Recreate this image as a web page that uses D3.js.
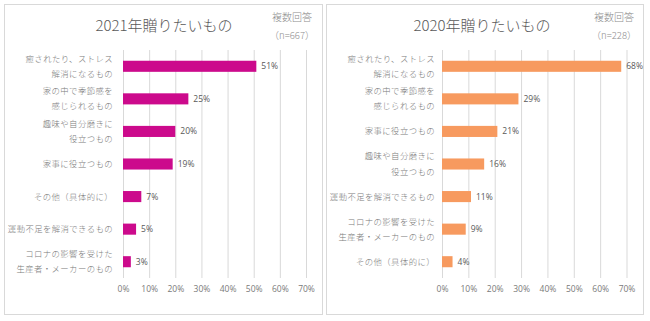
<!DOCTYPE html>
<html>
<head>
<meta charset="utf-8">
<script src="https://cdn.jsdelivr.net/npm/d3@7"></script>
<style>
  body { margin: 0; background: #fff; }
  svg { display: block; font-family: "Noto Sans CJK JP", "Noto Sans", sans-serif; }
</style>
</head>
<body>
<svg id="chart" width="650" height="321"></svg>
<script>
// 2021 survey (n=667)
const categories2021 = [
    '癒されたり、ストレス\n解消になるもの',
    '家の中で季節感を\n感じられるもの',
    '趣味や自分磨きに\n役立つもの',
    '家事に役立つもの',
    'その他（具体的に）',
    '運動不足を解消できるもの',
    'コロナの影響を受けた\n生産者・メーカーのもの',
];
const values2021 = [51, 25, 20, 19, 7, 5, 3];

// 2020 survey (n=228)
const categories2020 = [
    '癒されたり、ストレス\n解消になるもの',
    '家の中で季節感を\n感じられるもの',
    '家事に役立つもの',
    '趣味や自分磨きに\n役立つもの',
    '運動不足を解消できるもの',
    'コロナの影響を受けた\n生産者・メーカーのもの',
    'その他（具体的に）',
];
const values2020 = [68, 29, 21, 16, 11, 9, 4];

const xTicks = [0, 10, 20, 30, 40, 50, 60, 70];

const svg = d3.select('#chart');

const drawPanel = ({ box, plot, title, titleX, note, noteX, categories, values, color, labelGap }) => {
    const g = svg.append('g');

    // panel frame
    g.append('rect')
        .attr('x', box.x + 0.5)
        .attr('y', box.y + 0.5)
        .attr('width', box.w)
        .attr('height', box.h)
        .attr('fill', '#fff')
        .attr('stroke', '#d9d9d9')
        .attr('stroke-width', 1);

    const xScale = d3.scaleLinear()
        .domain([0, 70])
        .range([plot.left, plot.right]);

    const yScale = d3.scaleBand()
        .domain(categories)
        .range([plot.top, plot.bottom])
        .paddingInner(0.66)
        .paddingOuter(0.33);

    // vertical grid lines with percent labels below
    const xAxis = d3.axisBottom(xScale)
        .tickValues(xTicks)
        .tickSize(-(plot.bottom - plot.top))
        .tickPadding(8)
        .tickFormat((d) => `${d}%`);
    const xAxisGroup = g.append('g')
        .attr('transform', `translate(0,${plot.bottom})`)
        .call(xAxis);
    xAxisGroup.select('.domain').remove();
    xAxisGroup.selectAll('line').attr('stroke', '#d9d9d9');
    xAxisGroup.selectAll('text')
        .attr('fill', '#7a7a7a')
        .attr('font-size', '8.5px')
        .style('font-family', '"Open Sans", "Noto Sans", sans-serif');

    // bars
    g.append('g')
        .selectAll('rect')
        .data(categories)
        .join('rect')
        .attr('x', xScale(0))
        .attr('y', (d) => yScale(d))
        .attr('width', (d, i) => xScale(values[i]) - xScale(0))
        .attr('height', yScale.bandwidth())
        .attr('fill', color);

    // value labels
    g.append('g')
        .selectAll('text')
        .data(categories)
        .join('text')
        .attr('x', (d, i) => xScale(values[i]) + 5)
        .attr('y', (d) => yScale(d) + yScale.bandwidth() / 2)
        .attr('dy', '0.35em')
        .attr('fill', '#595959')
        .attr('font-size', '8.5px')
        .style('font-family', '"Open Sans", "Noto Sans", sans-serif')
        .text((d, i) => `${values[i]}%`);

    // category labels, split over two lines where needed
    const labels = g.append('g')
        .selectAll('text')
        .data(categories)
        .join('text')
        .attr('text-anchor', 'end')
        .attr('fill', '#7a7a7a')
        .attr('font-size', '8.4px')
        .attr('font-weight', 300)
        .attr('letter-spacing', '0.4px')
        .attr('y', (d) => yScale(d) + yScale.bandwidth() / 2);
    labels.each(function (d) {
        const lines = d.split('\n');
        const text = d3.select(this);
        lines.forEach((line, i) => {
            text.append('tspan')
                .attr('x', plot.left - labelGap)
                .attr('dy', i === 0 ? `${0.35 - (lines.length - 1) * 0.9}em` : '1.8em')
                .text(line);
        });
    });

    // title and sample note
    g.append('text')
        .attr('x', titleX)
        .attr('y', 31)
        .attr('text-anchor', 'middle')
        .attr('fill', '#595959')
        .attr('font-size', '15px')
        .attr('font-weight', 300)
        .text(title);
    g.append('text')
        .attr('x', noteX)
        .attr('y', 21)
        .attr('text-anchor', 'middle')
        .attr('fill', '#8c8c8c')
        .attr('font-size', '10px')
        .attr('font-weight', 300)
        .text('複数回答');
    g.append('text')
        .attr('x', noteX)
        .attr('y', 38.5)
        .attr('text-anchor', 'middle')
        .attr('fill', '#8c8c8c')
        .attr('font-size', '9.5px')
        .attr('font-weight', 300)
        .text(note);
};

drawPanel({
    box: { x: 4, y: 4, w: 318, h: 310 },
    plot: { left: 123, right: 306, top: 50, bottom: 278 },
    title: '2021年贈りたいもの',
    titleX: 164,
    note: '（n=667）',
    noteX: 292,
    categories: categories2021,
    values: values2021,
    color: '#cc0a8c',
    labelGap: 10,
});

drawPanel({
    box: { x: 326, y: 4, w: 317, h: 310 },
    plot: { left: 442, right: 626.5, top: 50, bottom: 278 },
    title: '2020年贈りたいもの',
    titleX: 482,
    note: '（n=228）',
    noteX: 614,
    categories: categories2020,
    values: values2020,
    color: '#f79a5f',
    labelGap: 7,
});
</script>
</body>
</html>
